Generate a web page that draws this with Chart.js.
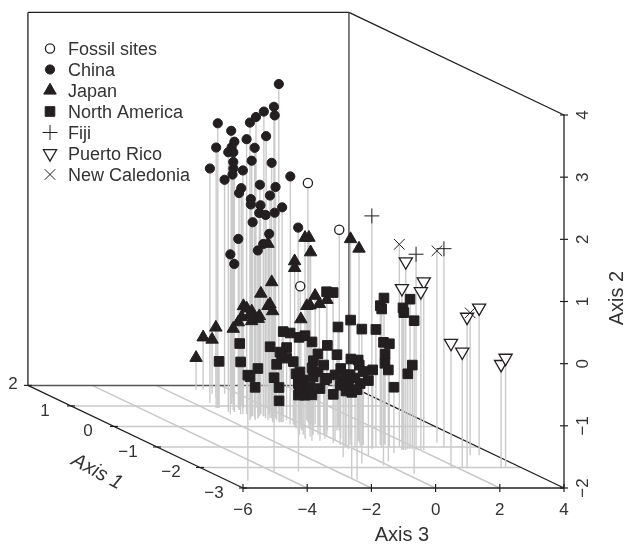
<!DOCTYPE html>
<html>
<head>
<meta charset="utf-8">
<script src="https://cdn.jsdelivr.net/npm/chart.js@4"></script>
<style>
  html, body { margin: 0; padding: 0; background: #fff; }
  canvas { display: block; }
</style>
</head>
<body>
<canvas id="chart3d" width="624" height="545"></canvas>
<script>
const seriesNames = ["Fossil sites", "China", "Japan", "North America", "Fiji", "Puerto Rico", "New Caledonia"];

const axis1Ticks = [2, 1, 0, -1, -2, -3];
const axis2Ticks = [-2, -1, 0, 1, 2, 3, 4];
const axis3Ticks = [-6, -4, -2, 0, 2, 4];

const fossilAxis1 = [0.2, -0.2, 0.2];
const fossilAxis2 = [1.85, 1.23, 0.19];
const fossilAxis3 = [0.31, 0.75, 0.07];

const chinaAxis1 = [0.6, 0.4, 0.8, 0.5, 0.9, 0.6, 0.9, 1.2, 0.7, 1, 0.7, 0.9, 0.4, 1.1, 0.7, 1.3, 0.5, 0.7, 0.8, 1.15, 1, 0.6, 1.4, 1.6, 0.4, 0.6, 0.4, 1.1, 0.8, 0.5, 0.9, 0.4, 0.6, 0.5, 0.8, 0.4, 0.6, 0.5, 0.3, 0.6, 0.9, 0.5, 0.7, 0.6, 0.8];
const chinaAxis2 = [3.31, 3.01, 2.74, 2.9, 2.68, 2.69, 2.58, 2.36, 2.39, 2.34, 2.35, 2.19, 2.35, 2.13, 2.18, 1.98, 2.11, 2.01, 1.99, 1.77, 1.82, 1.92, 1.59, 1.44, 1.89, 1.69, 1.72, 1.47, 1.49, 1.55, 1.36, 1.44, 1.36, 1.36, 1.17, 1.27, 1.24, 1.12, 1.1, 0.9, 0.72, 0.77, 0.6, 0.57, 0.35];
const chinaAxis3 = [-0.06, -0.48, 0.08, -0.66, -0.37, -0.96, -1.56, -0.74, -0.93, 0.08, -1.31, -1.61, -1.08, -0.86, -1.5, -0.54, -1.04, -0.15, -1.21, -1.47, -0.94, -1.18, -0.43, -0.41, 0.03, -0.65, -0.43, -0.56, -1.03, -0.47, -0.53, -1.2, -0.63, -0.09, -0.4, -0.74, -0.19, -1.01, 0.14, -0.36, -0.92, -0.68, -0.58, -1.57, -1.18];

const japanAxis1 = [0.3, 0.2, -0.1, 0.1, 0.3, 0, 0.4, 0.6, 0.9, 0.5, 0.3, 0.2, 0.7, 0.5, 0.6, 0.8, 1, 0.9, 0.5, 0.4, 1.1, 1.4, 1.8, 1.6, 0.2, 0.3, 1.8, 0.1, 0.3, 0, -0.1, -0.5, -0.6];
const japanAxis2 = [0.84, 0.97, 1.07, 0.77, 0.56, 0.55, 0.19, -0.06, -0.36, -0.2, -0.16, -0.21, -0.38, -0.39, -0.3, -0.47, -0.57, -0.62, -0.47, -0.4, -0.79, -0.87, -1.16, -1.13, -0.34, -0.16, -1.49, 0.07, -0.15, -0.03, 0.07, 1.18, 1.06];
const japanAxis3 = [-0.8, 0.22, -0.06, 0.26, 0.03, -0.37, -0.55, -0.62, -0.76, -0.47, -0.8, -0.79, -0.77, -0.8, -1.06, -0.69, -0.68, -0.92, -1.04, -0.97, -0.81, -0.95, -0.81, -0.8, 0.09, 0.41, -1.03, 0.4, 0.51, 0.4, 0.5, 0.7, 0.83];

const northAmericaAxis1 = [0.8, 0.4, 0.3, 0.9, 0.6, 0.4, -2.65, 0.3, 0.3, -2.2, 0.2, 0.4, 0.2, 0.3, 0.1, -0.1, -0.4, -0.5, -0.2, 0.3, 0.2, 0.1, 0.1, 0, 0, 0.2, -0.2, -0.1, -0.2, -0.1, -0.4, -0.5, -0.7, -0.8, -0.6, -0.8, -1.7, -1, -1.1, -1.1, -1.4, -1.3, 0, -0.3, -1.8, -1, -1.9, -1, -0.9, -0.8, -0.9, -1, -1.1, -1.1, -1.15, -2.3, -0.4, -0.6, -0.3, -0.6, -2.2, -0.5, -0.7, -0.8, -1.5, -0.9, -1, -2.55, -0.7, -1.1, -0.4, -0.5, -2.6, -0.1, -0.2, -0.9, -0.7, -1, -1, -0.4, -0.9, -0.1, -1, -0.3];
const northAmericaAxis2 = [-0.93, -0.85, -0.83, -1.25, -1.16, -1.2, -0.3, -1.3, -1.47, -0.49, -1.44, -1.72, -0.94, -1.1, -0.99, -1.09, -1.31, -1.28, -1.24, -1, -0.54, -0.53, -0.6, -0.54, -0.64, -0.87, -0.63, -0.8, -0.78, -0.91, -0.88, -0.75, -0.7, -0.75, -0.87, -0.72, -0.53, -0.76, -0.65, -0.79, -0.8, -0.94, -0.4, -0.19, 0.16, -0.11, -0.02, -0.34, -0.54, 0.33, 0.24, 0.22, 0.41, 0.27, 0.21, 0.46, -1.07, -1.05, -1.21, -1.3, -0.77, -1.2, -1.16, -1.22, -0.78, -0.87, -0.98, -0.61, -0.94, -0.97, -1.12, -1.06, -0.55, 0.2, 0.22, -0.82, -1.26, -0.84, -0.89, -0.99, -1.04, -1.12, -1.1, -0.96];
const northAmericaAxis3 = [-1.01, -0.6, -0.22, -1.52, -1.25, -0.98, -5.38, -1.36, -1.2, -3.96, -0.59, -0.32, -0.51, -0.53, -0.28, -0.34, -0.76, -0.72, -0.42, -0.22, -0.46, -0.38, -0.1, -0.05, 0.17, -0.56, 0.38, 0.22, 0.68, 0.08, 0, 0.71, 0.67, 0.57, 0.26, 1.37, 0.27, 0.72, 1.82, 1.68, 0.05, 0.98, 0.98, 0.97, -0.69, 0.82, -0.15, 1.24, 1.24, 1.34, 1.09, 1, 1.75, 1.53, 1.49, 0.27, -0.33, -0.23, -0.66, -0.85, -3.2, -0.56, -0.52, -0.24, -0.87, 0.15, 0.33, -2.01, -0.05, -0.17, -0.64, -0.04, -1.91, 0.49, 0.56, 0.56, -0.77, -0.14, 0.17, -0.18, -0.16, -0.46, -0.11, -0.23];

const fijiAxis1 = [-1.1, -1.15, -1];
const fijiAxis2 = [1.75, 1.15, 1.19];
const fijiAxis3 = [0.56, 1.87, 2.94];

const puertoRicoAxis1 = [-1.15, -1.15, -1.15, -1.15, -2, -1.4, -2, -2, -2, -2];
const puertoRicoAxis2 = [1.03, 0.71, 0.6, 0.55, 0.42, 0.37, 0, -0.14, -0.34, -0.24];
const puertoRicoAxis3 = [1.55, 2.11, 1.43, 2.02, 2.32, 3.5, 1.82, 2.17, 3.38, 3.52];

const caledoniaAxis1 = [-1, -0.8, -1.4];
const caledoniaAxis2 = [1.26, 1.09, 0.29];
const caledoniaAxis3 = [1.55, 2.99, 3.22];

// oblique projection, axis 1 goes into the page
const shearX = 1.34, shearY = 0.33;
const planeX = (a1, a3) => a3 - shearX * (a1 + 3);
const planeY = (a1, a2) => a2 + shearY * (a1 + 3);

function points(a1, a2, a3) {
  return a1.map((v, i) => ({ x: planeX(v, a3[i]), y: planeY(v, a2[i]) }));
}

function stems(a1, a2, a3) {
  const out = [];
  a1.forEach((v, i) => {
    out.push({ x: planeX(v, a3[i]), y: planeY(v, a2[i]) });
    out.push({ x: planeX(v, a3[i]), y: planeY(v, -2) });
    out.push({ x: NaN, y: NaN });
  });
  return out;
}

const ink = "#231f20";
const allStems = [].concat(
  stems(fossilAxis1, fossilAxis2, fossilAxis3),
  stems(chinaAxis1, chinaAxis2, chinaAxis3),
  stems(japanAxis1, japanAxis2, japanAxis3),
  stems(northAmericaAxis1, northAmericaAxis2, northAmericaAxis3),
  stems(fijiAxis1, fijiAxis2, fijiAxis3),
  stems(puertoRicoAxis1, puertoRicoAxis2, puertoRicoAxis3),
  stems(caledoniaAxis1, caledoniaAxis2, caledoniaAxis3)
);

const markerStyles = [
  { pointStyle: "circle", radius: 4.6, rotation: 0, fill: "#fff", borderWidth: 1.3 },
  { pointStyle: "circle", radius: 4.6, rotation: 0, fill: ink, borderWidth: 1 },
  { pointStyle: "triangle", radius: 7.2, rotation: 0, fill: ink, borderWidth: 1 },
  { pointStyle: "rect", radius: 6.8, rotation: 0, fill: ink, borderWidth: 1 },
  { pointStyle: "cross", radius: 7.5, rotation: 0, fill: ink, borderWidth: 1 },
  { pointStyle: "triangle", radius: 7.6, rotation: 180, fill: "#fff", borderWidth: 1.3 },
  { pointStyle: "crossRot", radius: 7.5, rotation: 0, fill: ink, borderWidth: 1 }
];

const seriesPoints = [
  points(fossilAxis1, fossilAxis2, fossilAxis3),
  points(chinaAxis1, chinaAxis2, chinaAxis3),
  points(japanAxis1, japanAxis2, japanAxis3),
  points(northAmericaAxis1, northAmericaAxis2, northAmericaAxis3),
  points(fijiAxis1, fijiAxis2, fijiAxis3),
  points(puertoRicoAxis1, puertoRicoAxis2, puertoRicoAxis3),
  points(caledoniaAxis1, caledoniaAxis2, caledoniaAxis3)
];

const datasets = seriesNames.map((name, i) => ({
  label: name,
  data: seriesPoints[i],
  showLine: false,
  order: 10 - i,
  pointStyle: markerStyles[i].pointStyle,
  pointRadius: markerStyles[i].radius,
  pointRotation: markerStyles[i].rotation,
  pointBackgroundColor: markerStyles[i].fill,
  pointBorderColor: ink,
  pointBorderWidth: markerStyles[i].borderWidth
}));

datasets.push({
  type: "line",
  label: "stems",
  data: allStems,
  order: 50,
  borderColor: "#cbcbcb",
  borderWidth: 1.4,
  pointRadius: 0,
  spanGaps: false,
  tension: 0
});

const box3d = {
  id: "box3d",
  beforeDatasetsDraw(chart) {
    const c = chart.ctx;
    const sx = chart.scales.x, sy = chart.scales.y;
    const px = (a1, a3) => sx.getPixelForValue(planeX(a1, a3));
    const py = (a1, a2) => sy.getPixelForValue(planeY(a1, a2));
    const seg = (x0, y0, x1, y1, color, w) => {
      c.beginPath();
      c.strokeStyle = color;
      c.lineWidth = w;
      c.moveTo(x0, y0);
      c.lineTo(x1, y1);
      c.stroke();
    };
    const grey = "#c9c9c9";

    c.save();
    // floor grid
    axis1Ticks.slice(1, -1).forEach(a => {
      seg(px(a, -6), py(a, -2), px(a, 4), py(a, -2), grey, 1.5);
    });
    axis3Ticks.slice(1, -1).forEach(a => {
      seg(px(-3, a), py(-3, -2), px(2, a), py(2, -2), grey, 1.5);
    });

    // box edges
    seg(px(2, -6), py(2, -2), px(2, -6), py(2, 4), ink, 1.3);
    seg(px(2, -6), py(2, 4), px(2, 4), py(2, 4), ink, 1.3);
    seg(px(2, 4), py(2, 4), px(-3, 4), py(-3, 4), ink, 1.3);
    seg(px(-3, 4), py(-3, 4), px(-3, 4), py(-3, -2), ink, 1.3);
    seg(px(2, 4), py(2, 4), px(2, 4), py(2, -2), "#555", 1.5);
    seg(px(2, -6), py(2, -2), px(2, 4), py(2, -2), "#555", 1.5);
    seg(px(2, -6), py(2, -2), px(-3, -6), py(-3, -2), ink, 1.3);
    seg(px(-3, -6), py(-3, -2), px(-3, 4), py(-3, -2), ink, 1.3);
    seg(px(2, 4), py(2, -2), px(-3, 4), py(-3, -2), ink, 1.3);

    // ticks
    axis1Ticks.forEach(a => {
      const x = px(a, -6), y = py(a, -2);
      seg(x - 4, y, x + 4, y, ink, 1.2);
    });
    axis3Ticks.forEach(a => {
      const x = px(-3, a), y = py(-3, -2);
      seg(x, y - 4, x, y + 4, ink, 1.2);
    });
    axis2Ticks.forEach(a => {
      const x = px(-3, 4), y = py(-3, a);
      seg(x - 4, y, x + 4, y, ink, 1.2);
    });
    c.restore();
  },
  afterDatasetsDraw(chart) {
    const c = chart.ctx;
    const sx = chart.scales.x, sy = chart.scales.y;
    const px = (a1, a3) => sx.getPixelForValue(planeX(a1, a3));
    const py = (a1, a2) => sy.getPixelForValue(planeY(a1, a2));
    const minus = n => String(n).replace("-", "\u2212");

    c.save();
    c.fillStyle = "#333";
    c.textBaseline = "middle";
    c.textAlign = "center";

    c.font = "17px 'Liberation Sans'";
    axis3Ticks.forEach(a => c.fillText(minus(a), px(-3, a), 510));
    axis1Ticks.forEach(a => {
      if (a === 2) {
        c.fillText(minus(a), px(a, -6) - 15, py(a, -2) - 1);
      } else {
        const off = a >= 0 ? -26 : -29;
        c.fillText(minus(a), px(a, -6) + off, py(a, -2) + 5);
      }
    });
    axis2Ticks.forEach(a => {
      c.save();
      c.translate(px(-3, 4) + 19, py(-3, a));
      c.rotate(-Math.PI / 2);
      c.fillText(minus(a), 0, 0);
      c.restore();
    });

    c.font = "20px 'Liberation Sans'";
    c.fillText("Axis 3", 402, 535);
    c.save();
    c.translate(617, 298);
    c.rotate(-Math.PI / 2);
    c.fillText("Axis 2", 0, 0);
    c.restore();
    c.save();
    c.translate(97, 472);
    c.rotate(0.49);
    c.font = "italic 20px 'Liberation Sans'";
    c.fillText("Axis 1", 0, 0);
    c.restore();

    // legend
    c.textAlign = "left";
    c.font = "18px 'Liberation Sans'";
    seriesNames.forEach((name, i) => {
      const y = 48.5 + i * 21;
      const m = markerStyles[i];
      c.fillStyle = m.fill;
      c.strokeStyle = ink;
      c.lineWidth = m.borderWidth;
      Chart.helpers.drawPoint(c, { pointStyle: m.pointStyle, radius: m.radius, rotation: m.rotation, borderWidth: m.borderWidth }, 50, y);
      c.fillStyle = "#333";
      c.fillText(name, 68, y + 1.5);
    });
    c.restore();
  }
};

new Chart(document.getElementById("chart3d"), {
  type: "scatter",
  data: { datasets: datasets },
  options: {
    responsive: false,
    animation: false,
    layout: { padding: 0, autoPadding: false },
    plugins: {
      legend: { display: false },
      tooltip: { enabled: false },
      title: { display: false }
    },
    scales: {
      x: { type: "linear", display: false, min: -13.57, max: 5.869 },
      y: { type: "linear", display: false, min: -2.917, max: 5.85 }
    }
  },
  plugins: [box3d]
});
</script>
</body>
</html>
